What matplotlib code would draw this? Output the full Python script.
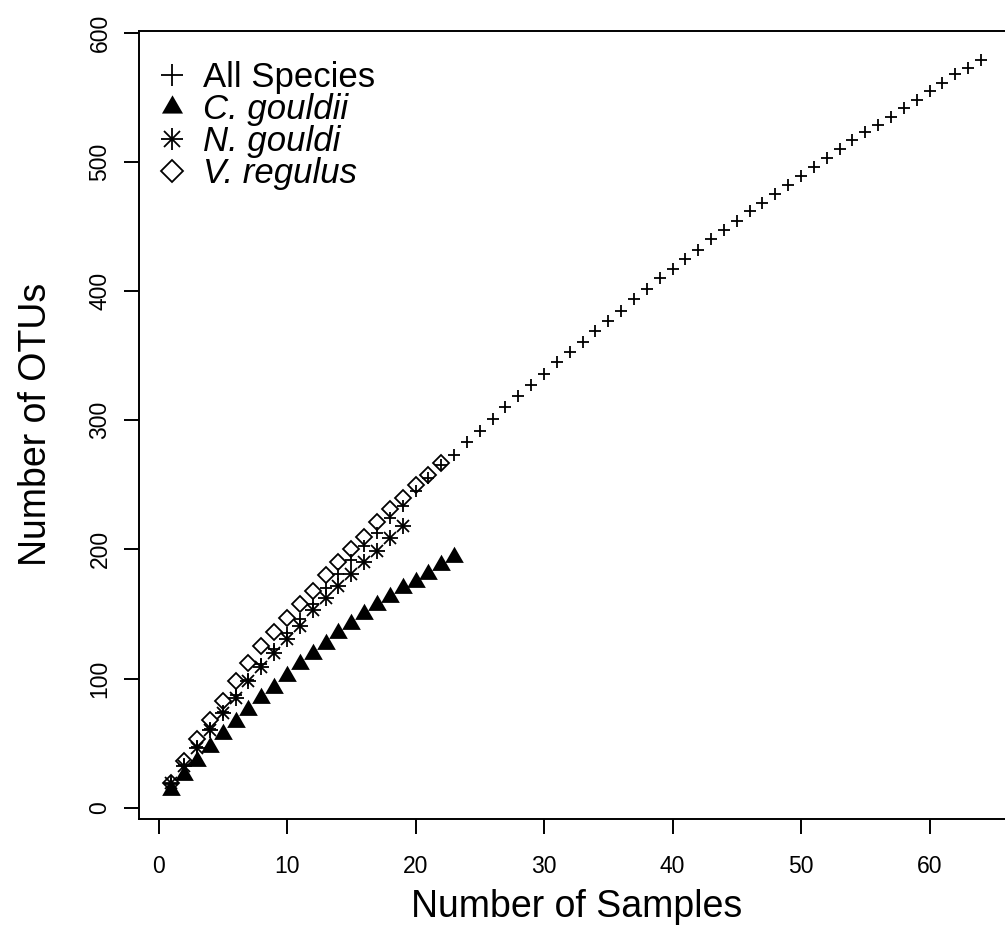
import numpy as np
import matplotlib
matplotlib.use("Agg")
import matplotlib.pyplot as plt
from matplotlib.path import Path

# Cumulative OTU counts by number of samples (rarefaction)
all_species = [18, 33, 47, 61, 74, 87, 99, 111, 123, 135, 146, 158, 170, 181,
               192, 203, 213, 224, 234, 245, 255, 265, 273, 283, 292, 301, 310,
               319, 327, 336, 345, 353, 361, 369, 377, 385, 394, 402, 410, 417,
               425, 432, 440, 447, 454, 462, 468, 475, 482, 489, 496, 503, 510,
               517, 523, 529, 535, 542, 548, 555, 561, 568, 573, 579]
c_gouldii = [14, 25, 36, 47, 57, 66, 76, 85, 93, 102, 111, 119, 127, 135, 142,
             150, 157, 163, 170, 175, 181, 188, 194]
n_gouldi = [19, 32, 46, 60, 73, 85, 98, 109, 120, 131, 141, 153, 162, 172, 181,
            190, 199, 209, 218]
v_regulus = [19, 36, 53, 68, 83, 98, 112, 125, 136, 147, 158, 168, 180, 190,
             200, 210, 221, 231, 240, 250, 258, 267]

legend_labels = ["All Species", "C. gouldii", "N. gouldi", "V. regulus"]
x_ticks = [0, 10, 20, 30, 40, 50, 60]
y_ticks = [0, 100, 200, 300, 400, 500, 600]

plt.rcParams['font.family'] = ['Liberation Sans', 'DejaVu Sans']

fig = plt.figure(figsize=(10.05, 9.39), dpi=100)
ax = fig.add_axes([139 / 1005, (939 - 818.8) / 939, 874.3 / 1005, 788 / 939])

# filled triangle centred on its centroid
tri = Path([(0, 1.5551), (1.3468, -0.7776), (-1.3468, -0.7776), (0, 1.5551)],
           [Path.MOVETO, Path.LINETO, Path.LINETO, Path.CLOSEPOLY])

mew = 1.3
x_all = np.arange(1, len(all_species) + 1)
x_c = np.arange(1, len(c_gouldii) + 1)
x_n = np.arange(1, len(n_gouldi) + 1)
x_v = np.arange(1, len(v_regulus) + 1)

ax.plot(x_all, all_species, ls='none', marker='+', ms=9.1, mew=mew, color='black')
ax.plot(x_c, c_gouldii, ls='none', marker=tri, ms=15.5, mew=0, color='black')
ax.plot(x_n, n_gouldi, ls='none', marker='+', ms=12.2, mew=mew, color='black')
ax.plot(x_n, n_gouldi, ls='none', marker='x', ms=8.6, mew=mew, color='black')
ax.plot(x_v, v_regulus, ls='none', marker='D', ms=8.6, mew=mew,
        mfc='none', mec='black')

# axis ranges padded by 4% of the data range
xmin, xmax = 1, len(all_species)
allv = all_species + c_gouldii + n_gouldi + v_regulus
ymin, ymax = min(allv), max(allv)
xp = 0.04 * (xmax - xmin)
yp = 0.04 * (ymax - ymin)
ax.set_xlim(xmin - xp, xmax + xp)
ax.set_ylim(ymin - yp, ymax + yp)

ax.set_xticks(x_ticks)
ax.set_yticks(y_ticks)
ax.tick_params(direction='out', length=10.8, width=1.4, labelsize=16.5,
               color='black')
ax.tick_params(axis='x', pad=15)
ax.tick_params(axis='y', pad=9)
for lbl in ax.get_yticklabels():
    lbl.set_rotation(90)
    lbl.set_va('center')
for s in ax.spines.values():
    s.set_linewidth(1.4)

ax.set_xlabel("Number of Samples", fontsize=27, va='center')
ax.xaxis.set_label_coords(0.5, (818.8 - 907) / 788)
ax.set_ylabel("Number of OTUs", fontsize=27)
ax.yaxis.set_label_coords((54 - 139) / 874.3, 0.5)

# legend
mx, tx = 0.0377, 0.0732
rows = [0.9439, 0.9033, 0.8627, 0.8221]
base_off = 0.0155
lkw = dict(transform=ax.transAxes, clip_on=False, ls='none', color='black')
ax.plot([mx], [rows[0]], marker='+', ms=15.8, mew=mew, **lkw)
ax.plot([mx], [rows[1]], marker=tri, ms=17.5, mew=0, **lkw)
ax.plot([mx], [rows[2]], marker='+', ms=15.8, mew=mew, **lkw)
ax.plot([mx], [rows[2]], marker='x', ms=11.2, mew=mew, **lkw)
ax.plot([mx], [rows[3]], marker='D', ms=10.7, mew=mew, mfc='none', mec='black',
        transform=ax.transAxes, clip_on=False, ls='none')
for i, lab in enumerate(legend_labels):
    ax.text(tx, rows[i] - base_off, lab, transform=ax.transAxes, fontsize=25,
            va='baseline', ha='left', style='normal' if i == 0 else 'italic')

fig.savefig("out.png", dpi=100)
